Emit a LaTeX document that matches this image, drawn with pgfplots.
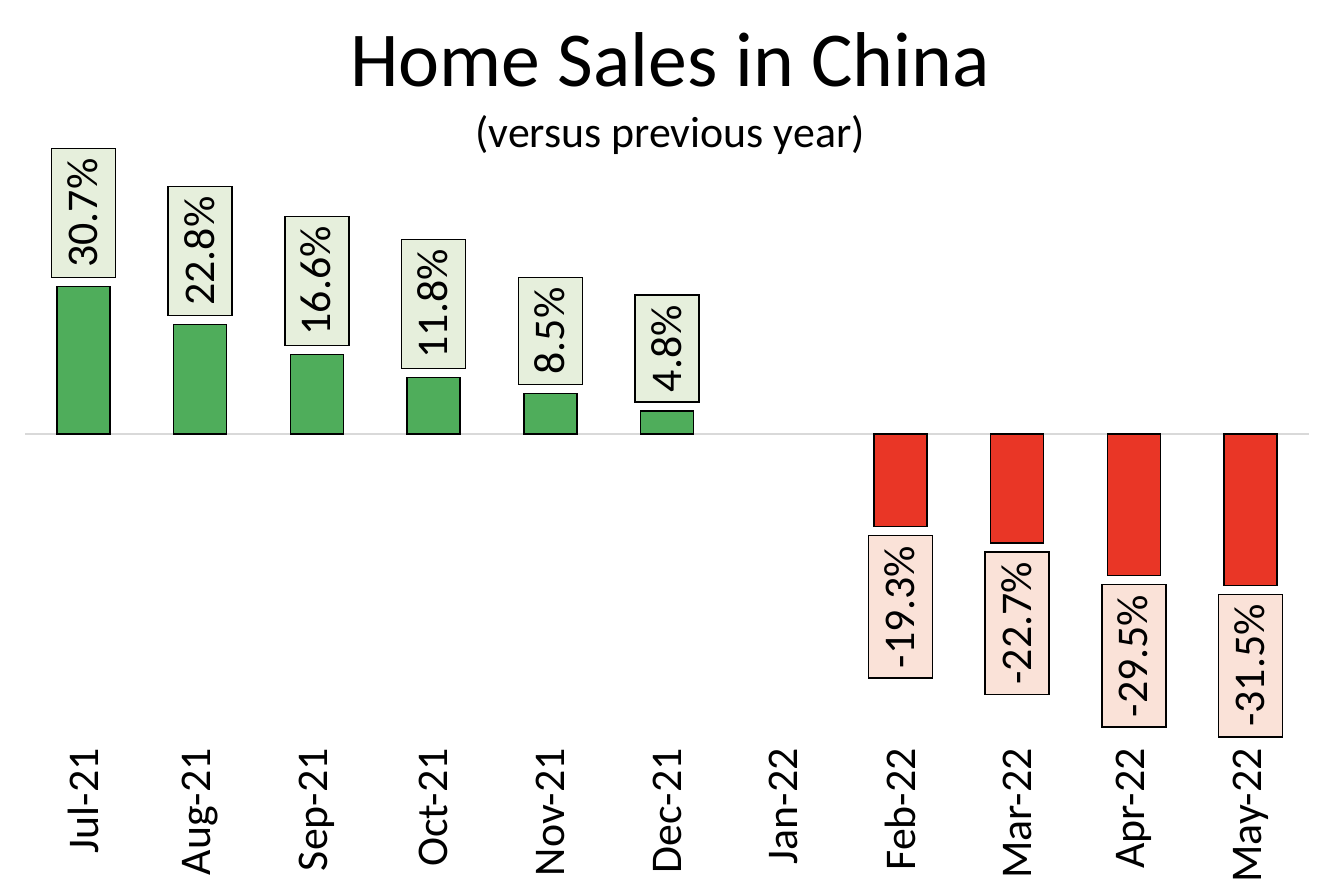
\documentclass[border=0pt]{standalone}
\usepackage{fontspec}
\setmainfont{Carlito}
\usepackage{pgfplots}
\pgfplotsset{compat=1.18}
\definecolor{barpos}{HTML}{4FAD5B}
\definecolor{barneg}{HTML}{E93626}
\definecolor{lblpos}{HTML}{E6EFDC}
\definecolor{lblneg}{HTML}{FAE2D8}
\newcommand{\lblfont}{\fontsize{44}{52}\selectfont}
\begin{document}
\begin{tikzpicture}[x=1bp,y=1bp]
\useasboundingbox (0,0) rectangle (1334,890);
\node[anchor=base, font=\fontsize{78}{90}\selectfont] at (670,803) {Home Sales in China};
\node[anchor=base, font=\lblfont] at (670,742) {(versus previous year)};
\begin{axis}[
    at={(25bp,142bp)}, anchor=south west,
    scale only axis, width=1284bp, height=612bp,
    xmin=-0.5, xmax=10.5, ymin=-65.4, ymax=62.1,
    ybar, bar width=53bp, bar shift=0pt,
    axis line style={draw=none},
    xtick={0,...,10},
    xticklabels={Jul-21,Aug-21,Sep-21,Oct-21,Nov-21,Dec-21,Jan-22,Feb-22,Mar-22,Apr-22,May-22},
    major tick length=0pt,
    xticklabel style={rotate=90, anchor=east, inner sep=0pt, font=\lblfont},
    ytick=\empty,
    extra y ticks={0}, extra y tick labels={},
    extra y tick style={grid=major, major grid style={draw=black!15, line width=2bp}},
    clip=false,
    nodes near coords={\pgfmathprintnumber[fixed,fixed zerofill,precision=1,assume math mode=true]{\pgfplotspointmeta}\%},
    every node near coord/.append style={rotate=90, draw=black, line width=1.5bp,
        font=\lblfont, text=black, inner xsep=10bp, inner ysep=10bp,
        text height=36bp, text depth=8bp, outer sep=9bp},
]
\addplot[fill=barpos, draw=black, line width=1.5bp,
    every node near coord/.append style={anchor=west, fill=lblpos}]
coordinates {(0,30.7) (1,22.8) (2,16.6) (3,11.8) (4,8.5) (5,4.8)};
\addplot[fill=barneg, draw=black, line width=1.5bp,
    every node near coord/.append style={anchor=east, fill=lblneg}]
coordinates {(7,-19.3) (8,-22.7) (9,-29.5) (10,-31.5)};
\end{axis}
\end{tikzpicture}
\end{document}
